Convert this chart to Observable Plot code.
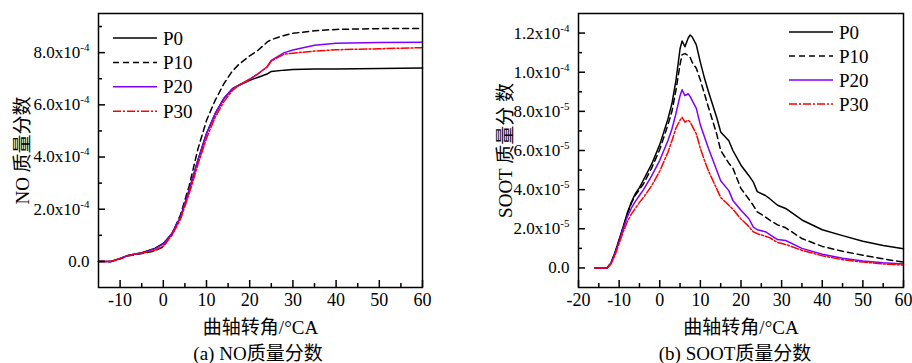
<!DOCTYPE html>
<html><head><meta charset="utf-8">
<script src="https://cdn.jsdelivr.net/npm/d3@7"></script>
<script src="https://cdn.jsdelivr.net/npm/@observablehq/plot@0.6"></script>
<style>
body{margin:0;background:#fff;}
#wrap{position:relative;width:912px;height:363px;overflow:hidden;font-family:"Liberation Serif","Noto Sans CJK SC",serif;color:#000;}
.panel{position:absolute;top:0;}
.cap{position:absolute;font-size:19px;white-space:nowrap;transform:translateX(-50%);line-height:1;}
</style></head><body><div id="wrap"></div>
<script>
// ---- series styling ----
const seriesNames = ["P0", "P10", "P20", "P30"];
const seriesColors = ["#000000", "#000000", "#8000ff", "#ff0000"];
const seriesDash = [null, "6,4", null, "8,2,2,2"];

// ---- (a) NO mass fraction, values in units of 1e-4 ----
const noAngle = [-15,-12,-10,-8,-5,-2,0,2,4,6,8,10,12,14,16,17.5,20,22,24,25,28,30,35,40,50,60];
const noP0  = [0,0,0.11,0.24,0.33,0.50,0.69,1.07,1.70,2.73,3.88,4.90,5.66,6.24,6.62,6.75,6.94,7.06,7.18,7.28,7.33,7.35,7.37,7.37,7.39,7.41];
const noP10 = [0,0,0.10,0.22,0.30,0.40,0.56,1.05,1.80,2.90,4.30,5.40,6.17,6.80,7.30,7.55,7.88,8.10,8.40,8.50,8.66,8.74,8.84,8.89,8.92,8.93];
const noP20 = [0,0,0.11,0.24,0.32,0.48,0.66,1.07,1.72,2.75,3.88,4.90,5.66,6.24,6.62,6.75,6.98,7.20,7.45,7.70,8.00,8.10,8.28,8.36,8.39,8.40];
const noP30 = [0,0,0.11,0.23,0.31,0.42,0.58,1.00,1.62,2.60,3.70,4.72,5.52,6.12,6.55,6.75,6.98,7.20,7.45,7.68,7.94,7.98,8.06,8.11,8.15,8.19];
const noXMajor = [-10,0,10,20,30,40,50,60];
const noXMinor = [-5,5,15,25,35,45,55];
const noYMajor = [0,2,4,6,8];
const noYMinor = [1,3,5,7,9];
const noYLabels = ["0.0","2.0x10^-4","4.0x10^-4","6.0x10^-4","8.0x10^-4"];

// ---- (b) SOOT mass fraction, values in units of 1e-5 ----
const sootAngle = [-16,-13,-12,-11,-10,-9,-8,-7,-6,-5,-4,-2,0,2,3,4,5,5.5,6.2,7,7.5,8,9,10,11,12,14,15,17,18,20,22,23,24,26,27,29,31,35,40,45,50,55,60];
const sootP0  = [0,0,0.25,0.80,1.45,2.10,2.80,3.35,3.80,4.10,4.50,5.30,6.30,7.60,8.40,9.60,11.2,11.6,11.3,11.75,11.9,11.8,11.4,10.5,9.7,9.0,7.7,6.95,6.5,6.0,5.25,4.7,4.4,3.9,3.7,3.55,3.2,3.04,2.45,1.95,1.65,1.36,1.15,0.98];
const sootP10 = [0,0,0.25,0.78,1.40,2.05,2.75,3.30,3.72,4.00,4.30,5.10,6.05,7.30,8.00,9.10,10.4,10.9,10.95,10.85,10.75,10.5,10.2,9.6,8.9,8.2,6.86,6.0,5.35,5.1,4.05,3.5,3.2,2.87,2.6,2.45,2.2,2.05,1.5,1.1,0.85,0.65,0.46,0.30];
const sootP20 = [0,0,0.24,0.75,1.35,2.00,2.60,3.05,3.40,3.70,4.00,4.70,5.50,6.50,7.10,7.90,8.8,9.1,8.8,8.9,8.75,8.55,8.15,7.3,6.7,6.1,5.0,4.45,3.95,3.45,2.95,2.5,2.1,1.95,1.85,1.72,1.45,1.4,1.0,0.7,0.5,0.36,0.26,0.20];
const sootP30 = [0,0,0.20,0.65,1.25,1.85,2.35,2.75,3.05,3.35,3.60,4.20,4.95,5.90,6.50,7.15,7.55,7.7,7.45,7.55,7.45,7.25,6.85,6.1,5.5,4.95,4.05,3.6,3.2,3.0,2.5,2.1,1.85,1.75,1.62,1.55,1.3,1.2,0.9,0.62,0.42,0.30,0.20,0.15];
const sootXMajor = [-20,-10,0,10,20,30,40,50,60];
const sootXMinor = [-15,-5,5,15,25,35,45,55];
const sootYMajor = [0,2,4,6,8,10,12];
const sootYMinor = [1,3,5,7,9,11];
const sootYLabels = ["0.0","2.0x10^-5","4.0x10^-5","6.0x10^-5","8.0x10^-5","1.0x10^-4","1.2x10^-4"];

const xTitle = "曲轴转角/°CA";
const FONT = '"Liberation Serif","Noto Sans CJK SC",serif';
const wrap = document.getElementById("wrap");
const H = 340, MT = 13, MB = 53;

function makePanel(cfg) {
  const fh = H - MT - MB, fw = cfg.width - cfg.ml - cfg.mr;
  const marks = [];
  cfg.series.forEach((vals, i) => {
    const data = cfg.angles.map((a, j) => ({a, v: vals[j]}));
    marks.push(Plot.line(data, {x: "a", y: "v", stroke: seriesColors[i], strokeWidth: 1.5,
      strokeDasharray: seriesDash[i] || undefined, curve: "linear"}));
  });
  marks.push(
    Plot.axisX({ticks: cfg.xMajor, tickSize: 0, tickPadding: 6, fontSize: 18, tickFormat: d => String(d), label: null}),
    Plot.axisX({ticks: [], tickSize: 0, label: xTitle, labelAnchor: "center", labelArrow: "none", labelOffset: 46, fontSize: 19}),
    Plot.axisY({ticks: cfg.yMajor, tickSize: 0, tickPadding: 9, fontSize: 17,
      tickFormat: d => cfg.yLabels[cfg.yMajor.indexOf(d)], label: null}),
    Plot.axisY({ticks: [], tickSize: 0, label: cfg.yTitle, labelAnchor: "center", labelArrow: "none", labelOffset: cfg.yLabelOffset, fontSize: 19}),
    // inward tick marks
    Plot.tickX(cfg.xMajor, {x: d => d, insetTop: fh - 7, stroke: "#000", strokeWidth: 1.5}),
    Plot.tickX(cfg.xMinor, {x: d => d, insetTop: fh - 4, stroke: "#000", strokeWidth: 1.5}),
    Plot.tickY(cfg.yMajor, {y: d => d, insetRight: fw - 7, stroke: "#000", strokeWidth: 1.5}),
    Plot.tickY(cfg.yMinor, {y: d => d, insetRight: fw - 4, stroke: "#000", strokeWidth: 1.5}),
    Plot.frame({stroke: "#000", strokeWidth: 1.5})
  );
  const svg = Plot.plot({
    width: cfg.width, height: H,
    marginLeft: cfg.ml, marginRight: cfg.mr, marginTop: MT, marginBottom: MB,
    x: {domain: cfg.xDomain},
    y: {domain: cfg.yDomain},
    style: {fontFamily: FONT, fontSize: "18px", color: "#000", background: "transparent", overflow: "visible"},
    marks
  });
  // superscript exponents in tick labels
  const ns = "http://www.w3.org/2000/svg";
  svg.querySelectorAll("text").forEach(t => {
    const s = t.textContent;
    if (s.includes("^")) {
      const [base, exp] = s.split("^");
      t.textContent = "";
      const a = document.createElementNS(ns, "tspan"); a.textContent = base;
      const b = document.createElementNS(ns, "tspan"); b.textContent = exp;
      b.setAttribute("font-size", "11"); b.setAttribute("dy", "-7");
      t.append(a, b);
    }
  });
  svg.classList.add("panel");
  svg.style.left = cfg.left + "px";
  wrap.appendChild(svg);

  // legend
  const lg = d3.select(wrap).append("svg").attr("class", "panel")
    .style("left", cfg.left + "px").attr("width", cfg.width).attr("height", H)
    .style("pointer-events", "none").style("font-family", FONT);
  seriesNames.forEach((n, i) => {
    const y = cfg.legY + i * cfg.legDy;
    lg.append("line").attr("x1", cfg.legX).attr("x2", cfg.legX + 44).attr("y1", y).attr("y2", y)
      .attr("stroke", seriesColors[i]).attr("stroke-width", 1.5)
      .attr("stroke-dasharray", seriesDash[i]);
    lg.append("text").attr("x", cfg.legX + 50).attr("y", y).attr("dy", "0.35em")
      .style("font-family", FONT).style("font-size", "19px").text(n);
  });

  const cap = document.createElement("div");
  cap.className = "cap";
  cap.style.left = cfg.capX + "px";
  cap.style.top = "344px";
  cap.textContent = cfg.caption;
  wrap.appendChild(cap);
}

makePanel({
  left: 0, width: 456, ml: 98, mr: 34,
  angles: noAngle, series: [noP0, noP10, noP20, noP30],
  xDomain: [-15, 60], yDomain: [-1, 9.5],
  xMajor: noXMajor, xMinor: noXMinor, yMajor: noYMajor, yMinor: noYMinor, yLabels: noYLabels,
  yTitle: "NO 质量分数", yLabelOffset: 83,
  legX: 113, legY: 38, legDy: 24.4,
  capX: 258, caption: "(a) NO质量分数"
});
makePanel({
  left: 456, width: 456, ml: 122, mr: 9,
  angles: sootAngle, series: [sootP0, sootP10, sootP20, sootP30],
  xDomain: [-20, 60], yDomain: [-1, 13],
  xMajor: sootXMajor, xMinor: sootXMinor, yMajor: sootYMajor, yMinor: sootYMinor, yLabels: sootYLabels,
  yTitle: "SOOT 质量分 数", yLabelOffset: 80,
  legX: 789 - 456, legY: 32, legDy: 24,
  capX: 735, caption: "(b) SOOT质量分数"
});
</script></body></html>
